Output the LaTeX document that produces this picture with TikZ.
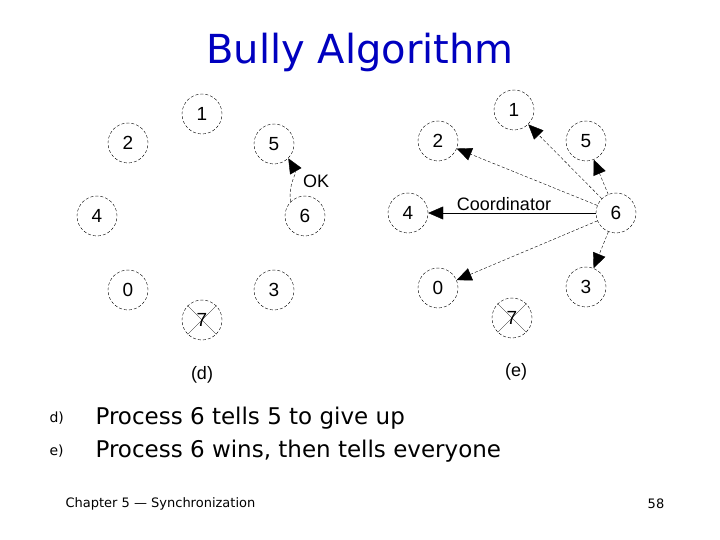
\documentclass[tikz,border=0pt]{standalone}
\usepackage{fontspec}
\setmainfont{Liberation Sans}
\newfontfamily\comic{DejaVu Sans}
\usetikzlibrary{arrows.meta}
\begin{document}
\begin{tikzpicture}[x=1pt,y=-1pt,
  proc/.style={circle,draw,densely dashed,line width=0.4pt,minimum size=40pt,inner sep=0pt,font=\fontsize{19}{19}\selectfont},
  msg/.style={densely dashed,line width=0.4pt,-{Triangle[length=15pt,width=13pt]}},
  lbl/.style={font=\fontsize{18}{18}\selectfont}]
\useasboundingbox (0,0) rectangle (720,540);
\node[font=\comic\fontsize{40}{40}\selectfont,text=blue!75!black] (title) at (360,52) {Bully Algorithm};
% (d)
\node[proc] (d1) at (202,114) {1};
\node[proc] (d2) at (128,143) {2};
\node[proc] (d5) at (274,144) {5};
\node[proc] (d4) at (97,216) {4};
\node[proc] (d6) at (305,216) {6};
\node[proc] (d0) at (128,290) {0};
\node[proc] (d3) at (274,290) {3};
\node[proc] (d7) at (202,320) {7};
\draw[line width=0.3pt] (d7.north west) -- (d7.south east) (d7.north east) -- (d7.south west);
\draw[msg] (d6.north west) to[out=100,in=-60] (d5.south east);
\node[lbl] (ok) at (316,181) {OK};
\node[lbl] (dl) at (202,375) {(d)};
% (e)
\node[proc] (e1) at (514,110) {1};
\node[proc] (e2) at (438,141) {2};
\node[proc] (e5) at (586,141) {5};
\node[proc] (e4) at (408,213) {4};
\node[proc] (e6) at (616,213) {6};
\node[proc] (e0) at (438,288) {0};
\node[proc] (e3) at (586,287) {3};
\node[proc] (e7) at (512,318) {7};
\draw[line width=0.3pt] (e7.north west) -- (e7.south east) (e7.north east) -- (e7.south west);
\draw[msg] (e6) -- (e1);
\draw[msg] (e6) -- (e2);
\draw[msg] (e6) -- (e5);
\draw[msg,solid] (e6) -- (e4);
\draw[msg] (e6) -- (e0);
\draw[msg] (e6) -- (e3);
\node[lbl] (coord) at (504,204) {Coordinator};
\node[lbl] (el) at (516,372) {(e)};
% text
\node[anchor=west,font=\comic\fontsize{14}{14}\selectfont] (bd) at (46,418) {d)};
\node[anchor=west,font=\comic\fontsize{14}{14}\selectfont] (be) at (46,451) {e)};
\node[anchor=west,font=\comic\fontsize{23}{23}\selectfont] (td) at (92,418) {Process 6 tells 5 to give up};
\node[anchor=west,font=\comic\fontsize{23}{23}\selectfont] (te) at (92,451) {Process 6 wins, then tells everyone};
\node[anchor=west,font=\comic\fontsize{13}{13}\selectfont] (foot) at (62,504) {Chapter 5 — Synchronization};
\node[font=\comic\fontsize{13}{13}\selectfont] (pg) at (656,504) {58};
\end{tikzpicture}
\end{document}
